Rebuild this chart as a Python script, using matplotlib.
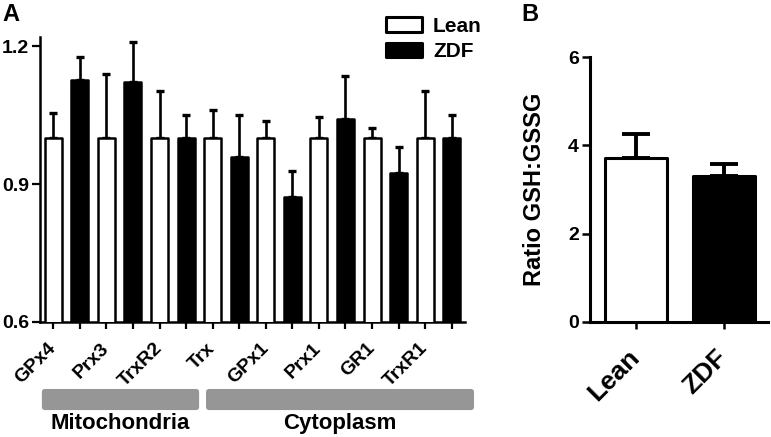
import matplotlib.pyplot as plt
import numpy as np
from matplotlib.patches import FancyBboxPatch
from matplotlib.transforms import blended_transform_factory

plt.rcParams['font.family'] = ['Liberation Sans', 'DejaVu Sans']
plt.rcParams['font.weight'] = 'bold'

# Panel A data
genes = ['GPx4', 'Prx3', 'TrxR2', 'Trx', 'GPx1', 'Prx1', 'GR1', 'TrxR1']
lean_mean = [1.0, 1.0, 1.0, 1.0, 1.0, 1.0, 1.0, 1.0]
lean_err = [0.054, 0.139, 0.103, 0.062, 0.038, 0.045, 0.021, 0.103]
zdf_mean = [1.126, 1.122, 1.0, 0.958, 0.872, 1.041, 0.925, 1.0]
zdf_err = [0.051, 0.087, 0.05, 0.092, 0.057, 0.094, 0.056, 0.05]
compartments = ['Mitochondria', 'Cytoplasm']
compartment_sizes = [3, 5]  # number of genes in each

# Panel B data
groups = ['Lean', 'ZDF']
ratio_mean = [3.72, 3.30]
ratio_err = [0.53, 0.27]

W, H = 771, 437
fig = plt.figure(figsize=(W / 100, H / 100), dpi=100)
axA = fig.add_axes([40 / W, 1 - 322 / H, 425 / W, 285 / H])
axB = fig.add_axes([590 / W, 1 - 322 / H, 178 / W, 265 / H])

n = len(genes)
x_lean = np.arange(n) * 2
x_zdf = x_lean + 1

# ---- panel A ----
bl = axA.bar(x_lean, lean_mean, width=0.64, color='white', edgecolor='black', linewidth=1.8, label='Lean', zorder=3)
bz = axA.bar(x_zdf, zdf_mean, width=0.64, color='black', edgecolor='black', linewidth=1.8, label='ZDF', zorder=3)
for p in list(bl) + list(bz):
    p.set_joinstyle('round')
axA.errorbar(x_lean, lean_mean, yerr=[np.zeros(n), lean_err], fmt='none', ecolor='black',
             elinewidth=1.9, capsize=3, capthick=2.4, zorder=2)
axA.errorbar(x_zdf, zdf_mean, yerr=[np.zeros(n), zdf_err], fmt='none', ecolor='black',
             elinewidth=1.9, capsize=3, capthick=2.4, zorder=2)

axA.set_xlim(-0.5, 2 * n - 0.5)
axA.set_ylim(0.6, 1.22)
axA.set_yticks([0.6, 0.9, 1.2], labels=['0.6', '0.9', '1.2'])
tick_labels = []
for g in genes:
    tick_labels += [g, '']
axA.set_xticks(np.arange(2 * n), labels=tick_labels)
for lab in axA.get_xticklabels():
    lab.set_rotation(45)
    lab.set_ha('right')
    lab.set_va('center')
    lab.set_rotation_mode('anchor')
axA.tick_params(axis='x', length=5, width=1.6, pad=12, labelsize=14)
axA.tick_params(axis='y', length=6, width=1.6, pad=2, labelsize=14)
for s in ['top', 'right']:
    axA.spines[s].set_visible(False)
for s in ['left', 'bottom']:
    axA.spines[s].set_linewidth(1.8)

leg = axA.legend(handles=[bl, bz], loc='upper left', bbox_to_anchor=(386 / W, 1 - 17 / H),
                 bbox_transform=fig.transFigure, frameon=False, fontsize=15,
                 handlelength=1.75, handleheight=0.7, handletextpad=0.5,
                 labelspacing=0.3, borderpad=0, borderaxespad=0)
for h in leg.legend_handles:
    h.set_linewidth(2.2)
    h.set_joinstyle('round')

# compartment bands under the gene labels
trans = blended_transform_factory(axA.transData, axA.transAxes)
band_pad = [(0.43, 0.49), (0.25, 0.84)]
start = 0
for name, size, (pl, pr) in zip(compartments, compartment_sizes, band_pad):
    x0 = 2 * start - pl
    x1 = 2 * (start + size) - 1 + pr
    band = FancyBboxPatch((x0, -0.309), x1 - x0, 0.074,
                          boxstyle='round,pad=0,rounding_size=0.12', mutation_aspect=0.095,
                          transform=trans, facecolor='#969696', edgecolor='none', clip_on=False)
    axA.add_patch(band)
    axA.text((x0 + x1) / 2, -0.357, name, transform=trans, ha='center', va='center',
             fontsize=16, fontweight='bold')
    start += size

# ---- panel B ----
xb = np.arange(len(groups))
bb = axB.bar(xb, ratio_mean, width=0.7, color=['white', 'black'], edgecolor='black', linewidth=2.2, zorder=3)
for p in bb:
    p.set_joinstyle('round')
axB.errorbar(xb, ratio_mean, yerr=[np.zeros(len(groups)), ratio_err], fmt='none', ecolor='black',
             elinewidth=2.8, capsize=10, capthick=2.8, zorder=2)
axB.set_xlim(-0.523, 1.5)
axB.set_ylim(0, 6)
axB.set_yticks([0, 2, 4, 6])
axB.set_xticks(xb, labels=groups)
for lab in axB.get_xticklabels():
    lab.set_rotation(45)
    lab.set_ha('right')
    lab.set_va('center')
    lab.set_rotation_mode('anchor')
axB.tick_params(axis='x', length=5, width=1.8, pad=18, labelsize=19)
axB.tick_params(axis='y', length=6, width=1.8, pad=2, labelsize=14)
axB.set_ylabel('Ratio GSH:GSSG', fontsize=17, fontweight='bold', labelpad=16)
for s in ['top', 'right']:
    axB.spines[s].set_visible(False)
for s in ['left', 'bottom']:
    axB.spines[s].set_linewidth(2.2)

fig.text(2 / W, 1 - 3 / H, 'A', fontsize=17, fontweight='bold', ha='left', va='top')
fig.text(521 / W, 1 - 3 / H, 'B', fontsize=17, fontweight='bold', ha='left', va='top')

fig.savefig('out.png', dpi=100)
